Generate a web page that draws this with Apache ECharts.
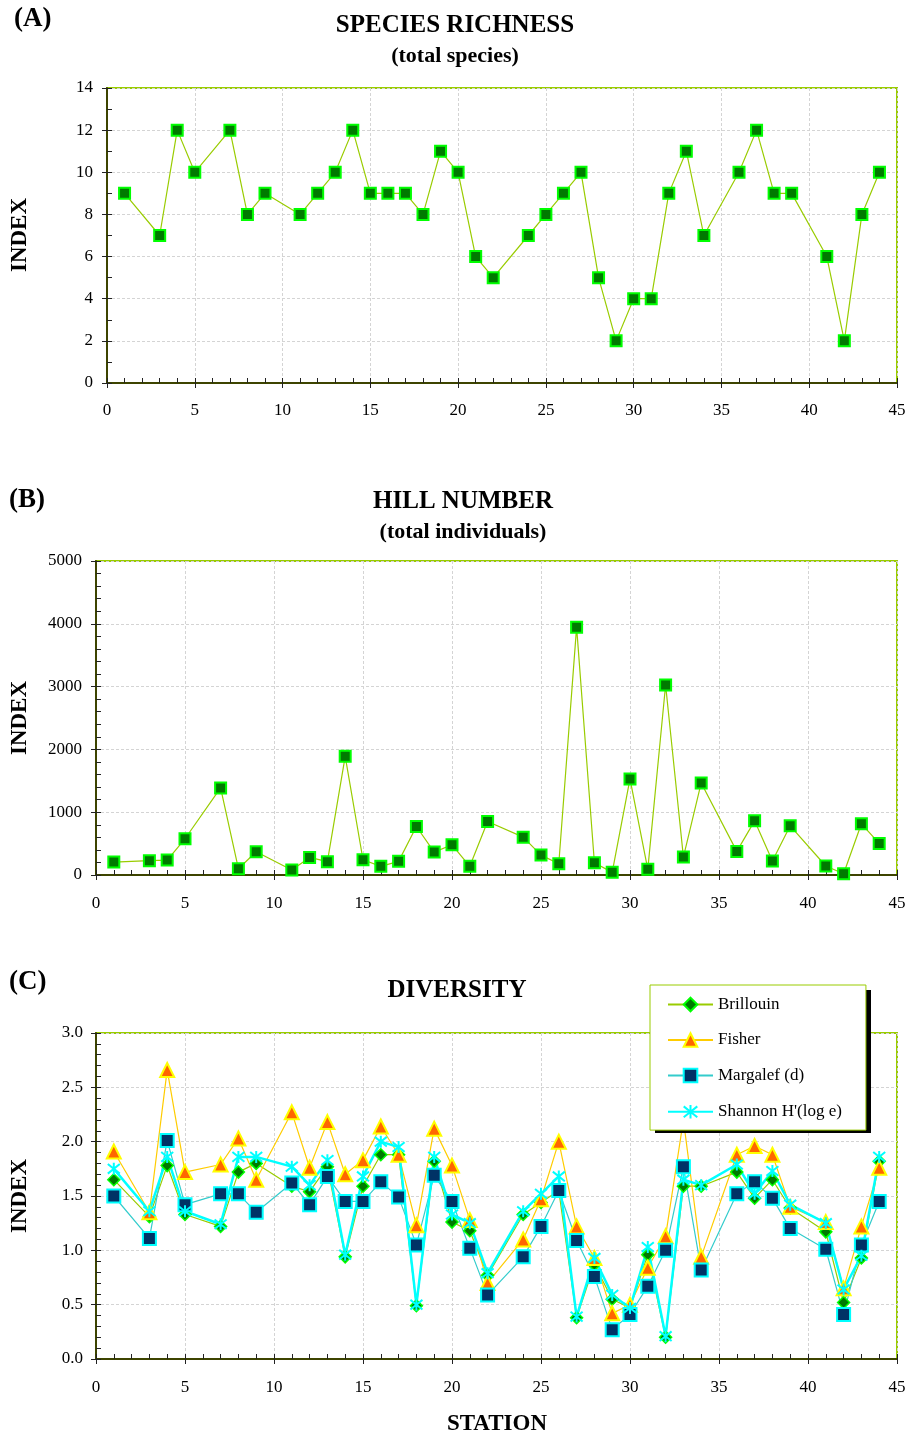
<!DOCTYPE html>
<html>
<head>
<meta charset="utf-8">
<script src="https://cdn.jsdelivr.net/npm/echarts@6/dist/echarts.min.js"></script>
<style>
  html, body { margin: 0; padding: 0; background: #fff; }
  #main { width: 909px; height: 1435px; }
</style>
</head>
<body>
<div id="main"></div>
<script>
// station numbers (x)
const stations = [1, 3, 4, 5, 7, 8, 9, 11, 12, 13, 14, 15, 16, 17, 18, 19, 20, 21, 22, 24, 25, 26, 27, 28, 29, 30, 31, 32, 33, 34, 36, 37, 38, 39, 41, 42, 43, 44]

// (A) total species
const richness = [9, 7, 12, 10, 12, 8, 9, 8, 9, 10, 12, 9, 9, 9, 8, 11, 10, 6, 5, 7, 8, 9, 10, 5, 2, 4, 4, 9, 11, 7, 10, 12, 9, 9, 6, 2, 8, 10]

// (B) total individuals
const individuals = [206, 228, 238, 577, 1386, 100, 370, 79, 280, 212, 1889, 243, 138, 217, 772, 365, 481, 138, 852, 603, 317, 180, 3947, 196, 42, 1529, 90, 3026, 286, 1466, 376, 862, 222, 783, 143, 21, 815, 503]

// (C) diversity indices
const brillouin = [1.65, 1.31, 1.78, 1.33, 1.22, 1.72, 1.80, 1.59, 1.54, 1.77, 0.94, 1.59, 1.88, 1.88, 0.49, 1.82, 1.26, 1.18, 0.77, 1.33, 1.44, 1.55, 0.38, 0.87, 0.55, 0.47, 0.96, 0.20, 1.59, 1.59, 1.72, 1.48, 1.65, 1.39, 1.17, 0.52, 0.93, 1.82]
const fisher = [1.91, 1.35, 2.66, 1.72, 1.79, 2.03, 1.65, 2.27, 1.76, 2.18, 1.70, 1.83, 2.14, 1.88, 1.23, 2.12, 1.78, 1.28, 0.70, 1.10, 1.47, 2.00, 1.22, 0.93, 0.42, 0.50, 0.84, 1.13, 2.20, 0.94, 1.88, 1.96, 1.88, 1.40, 1.26, 0.65, 1.22, 1.76]
const margalef = [1.50, 1.11, 2.01, 1.42, 1.52, 1.52, 1.35, 1.62, 1.42, 1.68, 1.45, 1.45, 1.63, 1.49, 1.05, 1.69, 1.45, 1.02, 0.59, 0.94, 1.22, 1.55, 1.09, 0.76, 0.27, 0.41, 0.67, 1.00, 1.77, 0.82, 1.52, 1.63, 1.48, 1.20, 1.01, 0.41, 1.05, 1.45]
const shannon = [1.75, 1.36, 1.86, 1.36, 1.24, 1.86, 1.86, 1.77, 1.60, 1.83, 0.96, 1.68, 2.00, 1.95, 0.50, 1.86, 1.33, 1.25, 0.79, 1.36, 1.52, 1.68, 0.39, 0.93, 0.59, 0.47, 1.03, 0.21, 1.65, 1.60, 1.79, 1.52, 1.73, 1.42, 1.25, 0.64, 0.95, 1.86]

const legendNames = ['Brillouin', 'Fisher', 'Margalef (d)', "Shannon H'(log e)"]

const xTicks = { min: 0, max: 45, interval: 5 }

const FONT = 'Liberation Serif, Times New Roman, serif'
const axisDark = '#3d4400'
const frameGreen = '#99cc00'

function pairs(vals) {
  return stations.map((s, i) => [s, vals[i]])
}

// main axis: labels, outside half of the major ticks, grid lines
// second axis: only inside ticks + minor ticks, so the major ticks cross the line
function makeAxes(dim, gridIndex, range, minorSplit, margin, fmt) {
  const pos = dim === 'x' ? 'bottom' : 'left'
  const main = {
    type: 'value',
    gridIndex,
    position: pos,
    min: range.min,
    max: range.max,
    interval: range.interval,
    axisLine: { show: true, onZero: false, lineStyle: { color: axisDark, width: 2 } },
    axisTick: { show: true, length: 5, lineStyle: { color: '#222' } },
    axisLabel: { color: '#000', fontFamily: FONT, fontSize: 17, margin, formatter: fmt || (v => String(v)) },
    splitLine: { show: true, lineStyle: { color: '#d4d4d4', type: [3, 2], width: 1 } },
  }
  const inner = {
    type: 'value',
    gridIndex,
    position: pos,
    min: range.min,
    max: range.max,
    interval: range.interval,
    axisLine: { show: false, onZero: false },
    axisTick: { show: true, inside: true, length: 5, lineStyle: { color: '#222' } },
    minorTick: { show: true, splitNumber: minorSplit, length: 5, lineStyle: { color: '#222' } },
    axisLabel: { show: false },
    splitLine: { show: false },
  }
  return [main, inner]
}

const grids = [
  { left: 107, top: 88, width: 790, height: 295 },
  { left: 96, top: 561, width: 801, height: 314 },
  { left: 96, top: 1033, width: 801, height: 326 },
].map(g => ({ ...g, show: true, borderColor: frameGreen, borderWidth: 2, backgroundColor: 'transparent' }))

const xAxis = [
  ...makeAxes('x', 0, xTicks, 5, 19),
  ...makeAxes('x', 1, xTicks, 5, 20),
  ...makeAxes('x', 2, xTicks, 5, 20),
]
const yAxis = [
  ...makeAxes('y', 0, { min: 0, max: 14, interval: 2 }, 2, 14),
  ...makeAxes('y', 1, { min: 0, max: 5000, interval: 1000 }, 5, 14),
  ...makeAxes('y', 2, { min: 0, max: 3, interval: 0.5 }, 5, 13, v => v.toFixed(1)),
]

const greenSquare = {
  type: 'line',
  symbol: 'rect',
  symbolSize: 11,
  lineStyle: { color: frameGreen, width: 1.2 },
  itemStyle: { color: '#007a00', borderColor: '#00ff00', borderWidth: 2 },
}

const asterisk = 'path://M5,0L5,10M1,1L9,9M9,1L1,9'

const series = [
  { ...greenSquare, name: 'richness', xAxisIndex: 0, yAxisIndex: 0, data: pairs(richness) },
  { ...greenSquare, name: 'individuals', xAxisIndex: 2, yAxisIndex: 2, data: pairs(individuals) },
  {
    name: legendNames[0], type: 'line', xAxisIndex: 4, yAxisIndex: 4,
    symbol: 'diamond', symbolSize: 12,
    lineStyle: { color: frameGreen, width: 1.2 },
    itemStyle: { color: '#007a00', borderColor: '#00ff00', borderWidth: 1.5 },
    data: pairs(brillouin),
  },
  {
    name: legendNames[1], type: 'line', xAxisIndex: 4, yAxisIndex: 4,
    symbol: 'triangle', symbolSize: 14,
    lineStyle: { color: '#ffcc00', width: 1.2 },
    itemStyle: { color: '#ff6600', borderColor: '#ffff00', borderWidth: 2 },
    data: pairs(fisher),
  },
  {
    name: legendNames[2], type: 'line', xAxisIndex: 4, yAxisIndex: 4,
    symbol: 'rect', symbolSize: 13,
    lineStyle: { color: '#33cccc', width: 1.2 },
    itemStyle: { color: '#003366', borderColor: '#00ffff', borderWidth: 2 },
    data: pairs(margalef),
  },
  {
    name: legendNames[3], type: 'line', xAxisIndex: 4, yAxisIndex: 4,
    symbol: asterisk, symbolSize: 12,
    lineStyle: { color: '#00ffff', width: 2.5 },
    itemStyle: { color: 'none', borderColor: '#00ffff', borderWidth: 2 },
    data: pairs(shannon),
  },
]

function label(text, x, y, size, opts = {}) {
  return {
    type: 'text',
    x, y,
    rotation: opts.rotation || 0,
    z: 100,
    style: {
      text,
      font: `bold ${size}px ${FONT}`,
      fill: '#000',
      textAlign: opts.align || 'center',
      textVerticalAlign: 'middle',
    },
  }
}

const graphic = [
  label('(A)', 14, 19, 27, { align: 'left' }),
  label('SPECIES RICHNESS', 455, 26, 25),
  label('(total species)', 455, 56, 22),
  label('INDEX', 20, 235, 23, { rotation: Math.PI / 2 }),
  label('(B)', 9, 500, 27, { align: 'left' }),
  label('HILL NUMBER', 463, 502, 25),
  label('(total individuals)', 463, 532, 22),
  label('INDEX', 20, 718, 23, { rotation: Math.PI / 2 }),
  label('(C)', 9, 982, 27, { align: 'left' }),
  label('DIVERSITY', 457, 991, 25),
  label('INDEX', 20, 1196, 23, { rotation: Math.PI / 2 }),
  label('STATION', 497, 1424, 23),
  // legend drop shadow
  { type: 'rect', z: 40, shape: { x: 655, y: 990, width: 216, height: 143 }, style: { fill: '#000' } },
]

const option = {
  animation: false,
  backgroundColor: '#fff',
  grid: grids,
  xAxis,
  yAxis,
  legend: {
    data: legendNames,
    orient: 'vertical',
    left: 650,
    top: 985,
    padding: [11, 24, 9, 17],
    itemGap: 18.5,
    itemWidth: 45,
    itemHeight: 17,
    backgroundColor: '#fff',
    borderColor: frameGreen,
    borderWidth: 1,
    textStyle: { color: '#000', fontFamily: FONT, fontSize: 17 },
    z: 50,
  },
  graphic,
  series,
}

const myChart = echarts.init(document.getElementById('main'), null, { renderer: 'canvas' })
myChart.setOption(option)
</script>
</body>
</html>
